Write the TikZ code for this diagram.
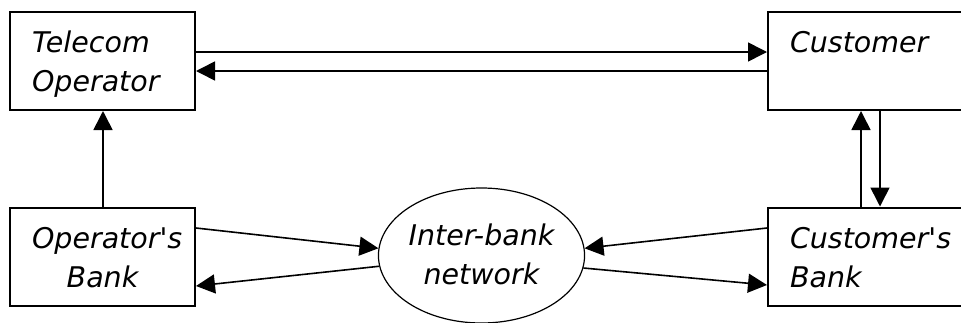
\documentclass[tikz,border=0pt]{standalone}
\usepackage{fontspec}
\setmainfont{DejaVu Sans}[Ligatures=TeXOff]
\usetikzlibrary{shapes.geometric,arrows.meta}

\newcommand{\topstrut}{\rule{0pt}{30pt}}
\newcommand{\botstrut}{\rule[-8pt]{0pt}{0pt}}

\begin{document}
\begin{tikzpicture}[x=1pt, y=-1pt,
  box/.style={draw, line width=2pt, inner xsep=22pt, inner ysep=0pt,
    minimum height=98pt, font=\fontsize{28.5}{39}\selectfont\itshape},
  flow/.style={line width=1.6pt, -{Triangle[length=19pt,width=19pt]}}]

\useasboundingbox (0,0) rectangle (961,322);
\clip (0,0) rectangle (961,322);

% Sizes of the boxes
\def\LW{141} % text width, left boxes
\def\RW{161} % text width, right boxes

% Boxes
\node[box, text width=\LW pt, align=left] (tel) at (102.5,61)
  {\topstrut Telecom\\Operator\botstrut};
\node[box, text width=\RW pt, align=left] (cus) at (870.5,61)
  {\topstrut Customer\\\mbox{}\botstrut};
\node[box, text width=\LW pt, align=center] (obk) at (102.5,256.5)
  {\topstrut Operator's\\Bank\botstrut};
\node[box, text width=\RW pt, align=left] (cbk) at (870.5,256.5)
  {\topstrut Customer's\\Bank\botstrut};

% Network
\node[draw, ellipse, line width=1.2pt, minimum width=205pt, minimum height=135pt,
  inner sep=0pt, align=center, font=\fontsize{28.5}{39}\selectfont\itshape]
  (net) at (481.5,255.5) {Inter-bank\\network\rule[-3pt]{0pt}{0pt}};

% Arrows
\draw[flow] ([yshift=9pt]tel.east) -- ([yshift=9pt]cus.west);
\draw[flow] ([yshift=-10pt]cus.west) -- ([yshift=-10pt]tel.east);
\draw[flow] ([xshift=0.5pt]obk.north) -- ([xshift=0.5pt]tel.south);
\draw[flow] ([xshift=-9.5pt]cbk.north) -- ([xshift=-9.5pt]cus.south);
\draw[flow] ([xshift=9.5pt]cus.south) -- ([xshift=9.5pt]cbk.north);
\draw[flow] ([yshift=28.5pt]obk.east) -- (net.176.3);
\draw[flow] (net.186.5) -- ([yshift=-29.5pt]obk.east);
\draw[flow] ([yshift=28.5pt]cbk.west) -- (net.4.2);
\draw[flow] (net.353.5) -- ([yshift=-28.5pt]cbk.west);

\end{tikzpicture}
\end{document}
